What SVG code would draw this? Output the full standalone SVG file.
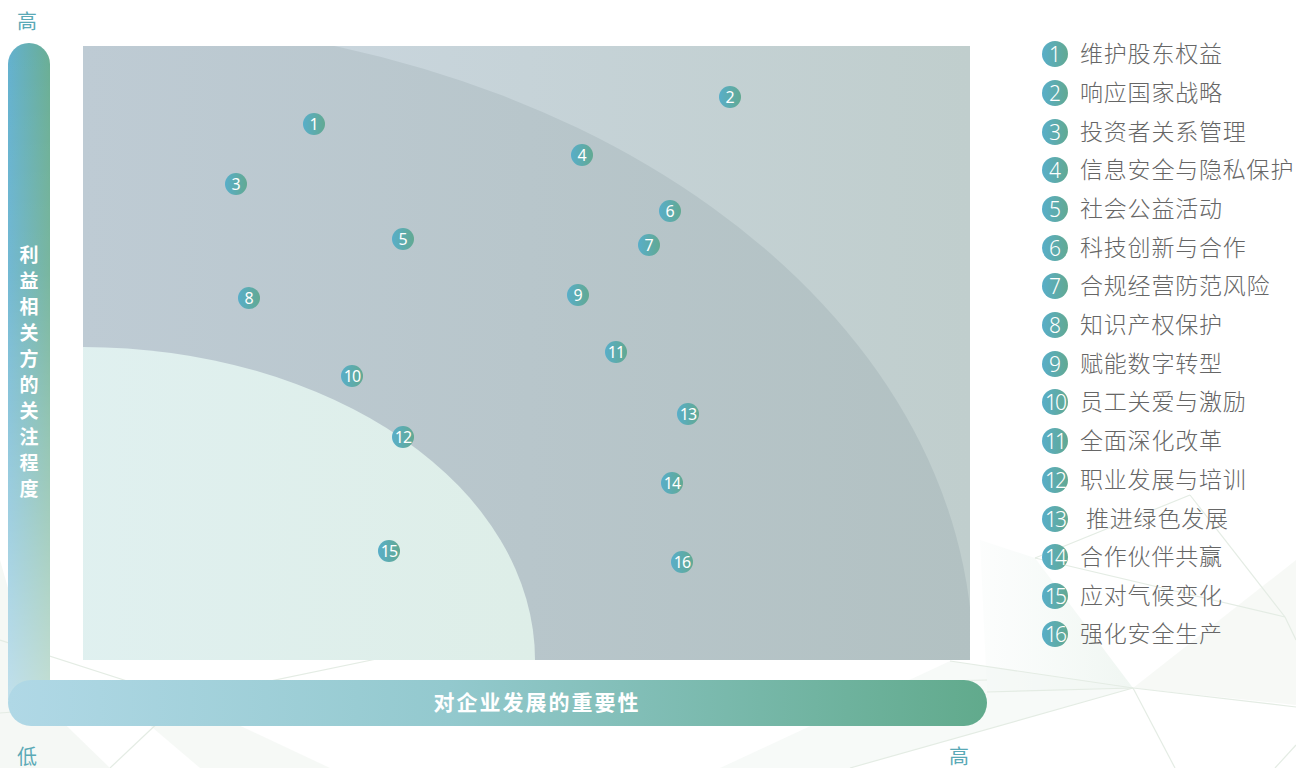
<svg xmlns="http://www.w3.org/2000/svg" width="1296" height="768" viewBox="0 0 1296 768">
<defs>
<linearGradient id="gOuter" x1="0" y1="0" x2="1" y2="0"><stop offset="0" stop-color="#ccd8e3"/><stop offset="1" stop-color="#c0cecd"/></linearGradient>
<linearGradient id="gMid" x1="0" y1="0" x2="1" y2="0"><stop offset="0" stop-color="#c8d4df"/><stop offset="0.5" stop-color="#becbd4"/><stop offset="1" stop-color="#b2c1c2"/></linearGradient>
<linearGradient id="gIn" x1="0" y1="0" x2="1" y2="0"><stop offset="0" stop-color="#e1f2f7"/><stop offset="1" stop-color="#deeee8"/></linearGradient>
<linearGradient id="gDot" x1="0" y1="0" x2="1" y2="0"><stop offset="0" stop-color="#58aec9"/><stop offset="1" stop-color="#62a992"/></linearGradient>
<linearGradient id="gV" x1="0" y1="0" x2="1" y2="0"><stop offset="0" stop-color="#63b1cf"/><stop offset="1" stop-color="#6aae94"/></linearGradient>
<linearGradient id="gVfade" x1="0" y1="0" x2="0" y2="1"><stop offset="0" stop-color="#ffffff" stop-opacity="0"/><stop offset="0.35" stop-color="#ffffff" stop-opacity="0.1"/><stop offset="1" stop-color="#ffffff" stop-opacity="0.6"/></linearGradient>
<linearGradient id="gH" x1="0" y1="0" x2="1" y2="0"><stop offset="0" stop-color="#b0d8e6"/><stop offset="0.45" stop-color="#93c9ce"/><stop offset="1" stop-color="#61aa8c"/></linearGradient>
<linearGradient id="gDeco" x1="0" y1="0" x2="1" y2="0"><stop offset="0" stop-color="#e6f1ec" stop-opacity="0.2"/><stop offset="1" stop-color="#e3efe7" stop-opacity="0.9"/></linearGradient>
<clipPath id="chartClip"><rect x="83" y="46" width="887" height="614"/></clipPath>
<style>
.lbl{font-family:"Noto Sans CJK SC","Noto Sans",sans-serif;}
.axis{font-size:20px;fill:#5aa9b6;}
.bar{font-weight:bold;fill:#ffffff;}
.dn{font-family:"Noto Sans","Noto Sans CJK SC",sans-serif;font-size:16px;fill:#ffffff;text-anchor:middle;}
.ln{font-family:"Noto Sans","Noto Sans CJK SC",sans-serif;font-size:21px;font-weight:300;fill:#ffffff;text-anchor:middle;}
.lt{font-family:"Noto Sans CJK SC",sans-serif;font-size:23px;font-weight:300;fill:#666666;letter-spacing:0.8px;}
.deco{fill:none;stroke:#e4ece4;stroke-width:1.2;}
</style>
</defs>
<rect width="1296" height="768" fill="#ffffff"/>
<g id="background-deco">
<polygon points="980,540 1035,558 1133,688 987,692" fill="url(#gDeco)" opacity="0.6"/>
<polygon points="1133,688 1296,560 1296,705" fill="#f3f6f2" opacity="0.7"/>
<polygon points="1133,688 950,661 720,768 850,768" fill="#f2f6f3" opacity="0.6"/>
<polygon points="0,560 40,700 110,768 0,768" fill="#eef4ef" opacity="0.6"/>
<polygon points="120,700 183,699 330,768 200,768" fill="#f2f6f2" opacity="0.7"/>
<line class="deco" x1="1133" y1="688" x2="1296" y2="707"/>
<line class="deco" x1="1133" y1="688" x2="1175" y2="768"/>
<line class="deco" x1="1133" y1="688" x2="950" y2="661"/>
<line class="deco" x1="1133" y1="688" x2="987" y2="692"/>
<line class="deco" x1="1133" y1="688" x2="850" y2="768"/>
<line class="deco" x1="1190" y1="495" x2="1285" y2="617"/>
<line class="deco" x1="1035" y1="558" x2="1285" y2="617"/>
<line class="deco" x1="1035" y1="558" x2="1190" y2="495"/>
<line class="deco" x1="1285" y1="617" x2="1296" y2="640"/>
<line class="deco" x1="1296" y1="745" x2="1275" y2="768"/>
<line class="deco" x1="0" y1="640" x2="183" y2="699"/>
<line class="deco" x1="0" y1="713" x2="183" y2="699"/>
<line class="deco" x1="183" y1="699" x2="420" y2="650"/>
<line class="deco" x1="183" y1="699" x2="987" y2="680"/>
<line class="deco" x1="183" y1="699" x2="110" y2="768"/>
</g>
<g id="chart-area" clip-path="url(#chartClip)">
<rect x="83" y="46" width="887" height="614" fill="url(#gOuter)"/>
<ellipse cx="83" cy="660" rx="890" ry="640" fill="url(#gMid)"/>
<ellipse cx="83" cy="660" rx="452" ry="313" fill="url(#gIn)"/>
</g>
<g id="y-axis">
<path d="M8,64 A21,21 0 0 1 50,64 L50,700 L8,700 Z" fill="url(#gV)"/>
<path d="M8,64 A21,21 0 0 1 50,64 L50,700 L8,700 Z" fill="url(#gVfade)"/>
<text class="lbl bar" font-size="19" text-anchor="middle" x="29"><tspan x="29" y="262">利</tspan><tspan x="29" y="288">益</tspan><tspan x="29" y="314">相</tspan><tspan x="29" y="340">关</tspan><tspan x="29" y="366">方</tspan><tspan x="29" y="392">的</tspan><tspan x="29" y="418">关</tspan><tspan x="29" y="444">注</tspan><tspan x="29" y="470">程</tspan><tspan x="29" y="496">度</tspan></text>
</g>
<g id="x-axis">
<rect x="8" y="680" width="979" height="46" rx="23" ry="23" fill="url(#gH)"/>
<text class="lbl bar" font-size="21" x="537" y="710" text-anchor="middle" letter-spacing="2">对企业发展的重要性</text>
</g>
<g id="axis-labels">
<text class="lbl axis" x="27" y="29" text-anchor="middle">高</text>
<text class="lbl axis" x="27" y="764" text-anchor="middle">低</text>
<text class="lbl axis" x="959" y="764" text-anchor="middle">高</text>
</g>
<g id="points">
<g id="p1"><circle cx="314" cy="124" r="11" fill="url(#gDot)"/><text class="dn" x="314" y="129.5">1</text></g>
<g id="p2"><circle cx="730" cy="97" r="11" fill="url(#gDot)"/><text class="dn" x="730" y="102.5">2</text></g>
<g id="p3"><circle cx="236" cy="184" r="11" fill="url(#gDot)"/><text class="dn" x="236" y="189.5">3</text></g>
<g id="p4"><circle cx="582" cy="155" r="11" fill="url(#gDot)"/><text class="dn" x="582" y="160.5">4</text></g>
<g id="p5"><circle cx="403" cy="239" r="11" fill="url(#gDot)"/><text class="dn" x="403" y="244.5">5</text></g>
<g id="p6"><circle cx="670" cy="211" r="11" fill="url(#gDot)"/><text class="dn" x="670" y="216.5">6</text></g>
<g id="p7"><circle cx="649" cy="245" r="11" fill="url(#gDot)"/><text class="dn" x="649" y="250.5">7</text></g>
<g id="p8"><circle cx="249" cy="298" r="11" fill="url(#gDot)"/><text class="dn" x="249" y="303.5">8</text></g>
<g id="p9"><circle cx="578" cy="295" r="11" fill="url(#gDot)"/><text class="dn" x="578" y="300.5">9</text></g>
<g id="p10"><circle cx="352" cy="376" r="11" fill="url(#gDot)"/><text class="dn" x="352" y="381.5" letter-spacing="-1">10</text></g>
<g id="p11"><circle cx="616" cy="352" r="11" fill="url(#gDot)"/><text class="dn" x="616" y="357.5" letter-spacing="-1">11</text></g>
<g id="p12"><circle cx="403" cy="437" r="11" fill="url(#gDot)"/><text class="dn" x="403" y="442.5" letter-spacing="-1">12</text></g>
<g id="p13"><circle cx="688" cy="414" r="11" fill="url(#gDot)"/><text class="dn" x="688" y="419.5" letter-spacing="-1">13</text></g>
<g id="p14"><circle cx="672" cy="483" r="11" fill="url(#gDot)"/><text class="dn" x="672" y="488.5" letter-spacing="-1">14</text></g>
<g id="p15"><circle cx="389" cy="551" r="11" fill="url(#gDot)"/><text class="dn" x="389" y="556.5" letter-spacing="-1">15</text></g>
<g id="p16"><circle cx="682" cy="562" r="11" fill="url(#gDot)"/><text class="dn" x="682" y="567.5" letter-spacing="-1">16</text></g>
</g>
<g id="legend">
<g id="l1"><circle cx="1055" cy="54" r="13" fill="url(#gDot)"/><text class="ln" x="1055" y="61.5">1</text><text class="lt" x="1080" y="62">维护股东权益</text></g>
<g id="l2"><circle cx="1055" cy="93" r="13" fill="url(#gDot)"/><text class="ln" x="1055" y="100.5">2</text><text class="lt" x="1080" y="101">响应国家战略</text></g>
<g id="l3"><circle cx="1055" cy="132" r="13" fill="url(#gDot)"/><text class="ln" x="1055" y="139.5">3</text><text class="lt" x="1080" y="140">投资者关系管理</text></g>
<g id="l4"><circle cx="1055" cy="170" r="13" fill="url(#gDot)"/><text class="ln" x="1055" y="177.5">4</text><text class="lt" x="1080" y="178">信息安全与隐私保护</text></g>
<g id="l5"><circle cx="1055" cy="209" r="13" fill="url(#gDot)"/><text class="ln" x="1055" y="216.5">5</text><text class="lt" x="1080" y="217">社会公益活动</text></g>
<g id="l6"><circle cx="1055" cy="248" r="13" fill="url(#gDot)"/><text class="ln" x="1055" y="255.5">6</text><text class="lt" x="1080" y="256">科技创新与合作</text></g>
<g id="l7"><circle cx="1055" cy="286" r="13" fill="url(#gDot)"/><text class="ln" x="1055" y="293.5">7</text><text class="lt" x="1080" y="294">合规经营防范风险</text></g>
<g id="l8"><circle cx="1055" cy="325" r="13" fill="url(#gDot)"/><text class="ln" x="1055" y="332.5">8</text><text class="lt" x="1080" y="333">知识产权保护</text></g>
<g id="l9"><circle cx="1055" cy="364" r="13" fill="url(#gDot)"/><text class="ln" x="1055" y="371.5">9</text><text class="lt" x="1080" y="372">赋能数字转型</text></g>
<g id="l10"><circle cx="1055" cy="402" r="13" fill="url(#gDot)"/><text class="ln" x="1055" y="409.5" letter-spacing="-2">10</text><text class="lt" x="1080" y="410">员工关爱与激励</text></g>
<g id="l11"><circle cx="1055" cy="441" r="13" fill="url(#gDot)"/><text class="ln" x="1055" y="448.5" letter-spacing="-2">11</text><text class="lt" x="1080" y="449">全面深化改革</text></g>
<g id="l12"><circle cx="1055" cy="480" r="13" fill="url(#gDot)"/><text class="ln" x="1055" y="487.5" letter-spacing="-2">12</text><text class="lt" x="1080" y="488">职业发展与培训</text></g>
<g id="l13"><circle cx="1055" cy="519" r="13" fill="url(#gDot)"/><text class="ln" x="1055" y="526.5" letter-spacing="-2">13</text><text class="lt" x="1086" y="527">推进绿色发展</text></g>
<g id="l14"><circle cx="1055" cy="557" r="13" fill="url(#gDot)"/><text class="ln" x="1055" y="564.5" letter-spacing="-2">14</text><text class="lt" x="1080" y="565">合作伙伴共赢</text></g>
<g id="l15"><circle cx="1055" cy="596" r="13" fill="url(#gDot)"/><text class="ln" x="1055" y="603.5" letter-spacing="-2">15</text><text class="lt" x="1080" y="604">应对气候变化</text></g>
<g id="l16"><circle cx="1055" cy="634" r="13" fill="url(#gDot)"/><text class="ln" x="1055" y="641.5" letter-spacing="-2">16</text><text class="lt" x="1080" y="642">强化安全生产</text></g>
</g>
</svg>
